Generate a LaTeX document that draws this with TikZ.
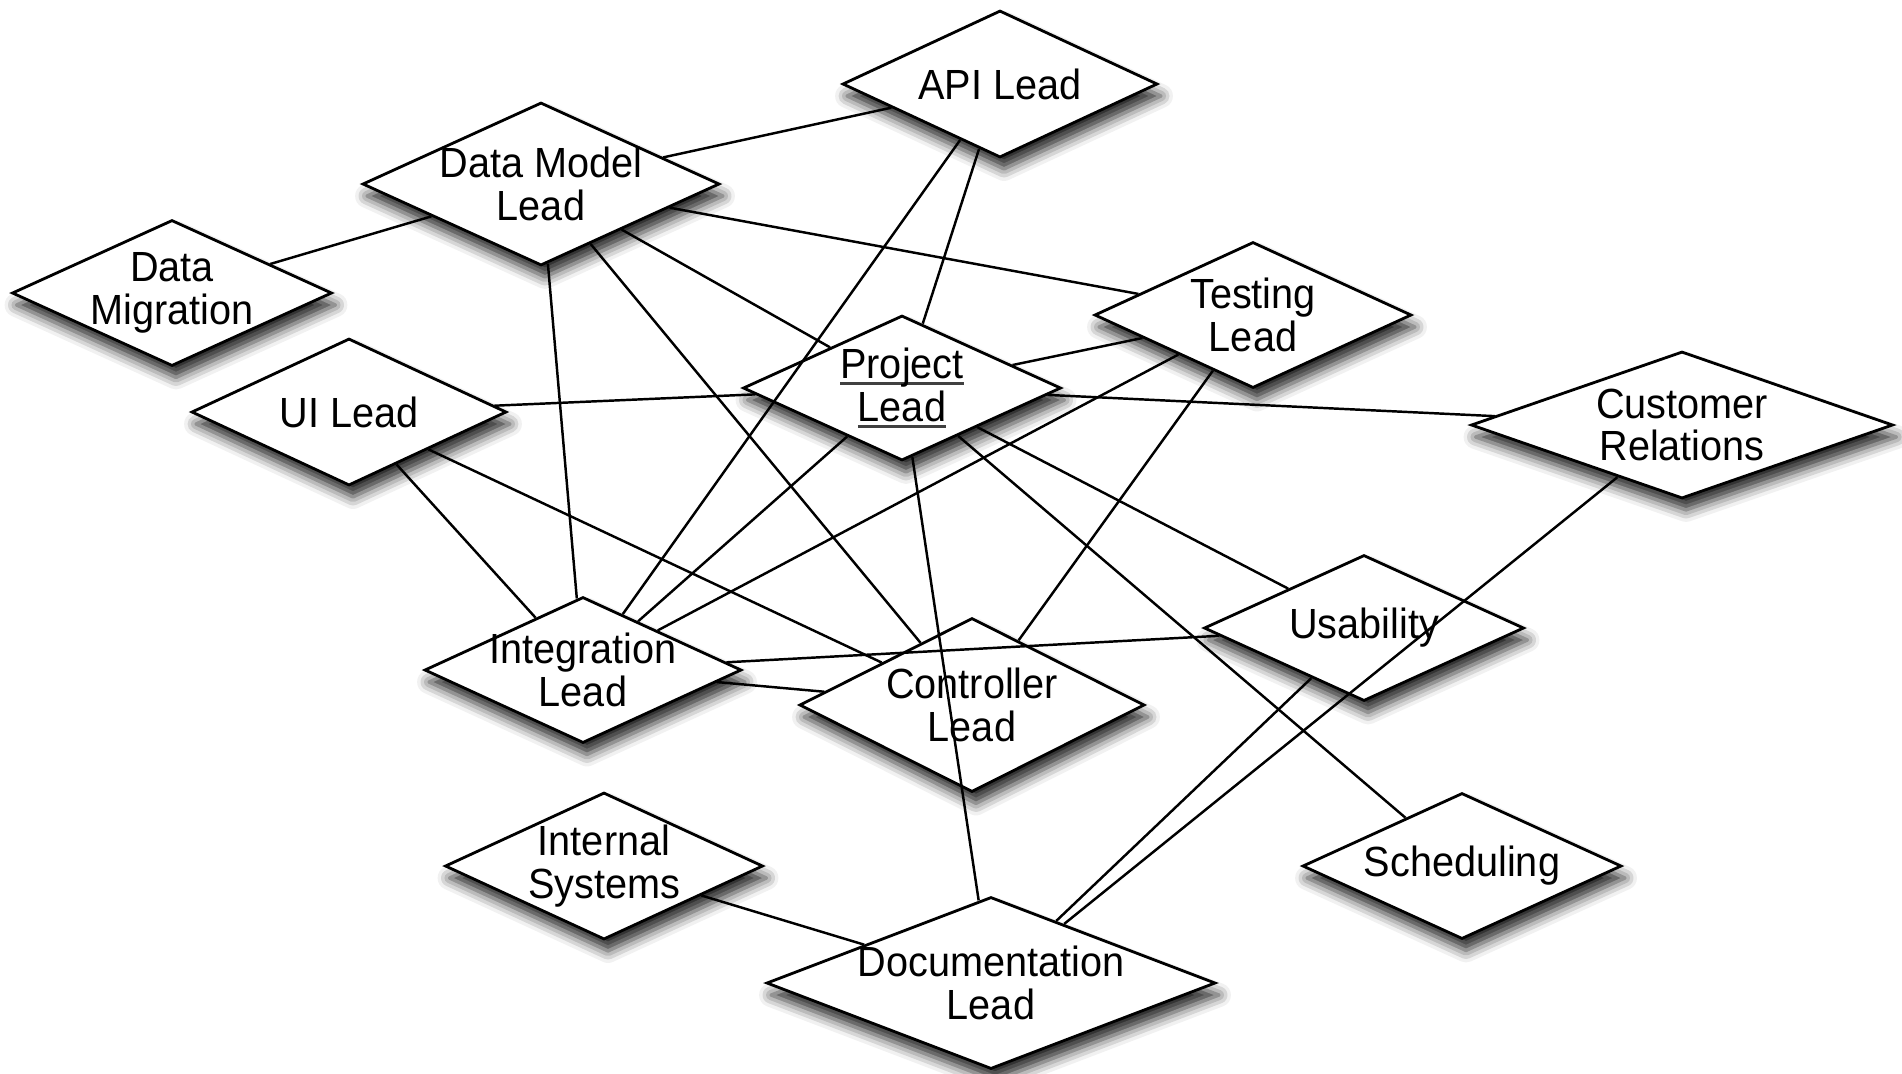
\documentclass[tikz,border=0pt]{standalone}
\usepackage{fontspec}
\newfontfamily\rolefont[FakeStretch=0.94]{Liberation Sans}
\usetikzlibrary{shapes.geometric,shadows.blur}
\newcommand{\ulname}[1]{\setbox0\hbox{#1}%
  \rlap{\textcolor{darkgray}{\rule[-2pt]{\wd0}{1pt}}}\box0}
\tikzset{
	role/.style={
		shape = diamond,
		draw,
		fill = white,
		line width = 0.8pt,
		inner sep = 0pt,
		blur shadow = {shadow xshift=0.4mm, shadow yshift=-1.2mm,
			shadow blur radius=1.2mm, shadow opacity=85}
	},
	rolename/.style={
		align = center,
		inner sep = 0pt,
		font = {\rolefont\fontsize{12}{12.2}\selectfont}
	},
	link/.style={
		line width = 0.7pt
	},
}

\begin{document}
\begin{tikzpicture}
    \useasboundingbox (0,0) rectangle (19.02,-10.73);
    % the roles
    \foreach \id/\pos/\w/\h/\txt in {
      api/{10.00,-0.84}/3.15/1.47/{API Lead},
      dm/{5.41,-1.84}/3.57/1.63/{Data Model\\Lead},
      mig/{1.72,-2.93}/3.20/1.46/{Data\\Migration},
      ui/{3.49,-4.12}/3.15/1.47/{UI Lead},
      proj/{9.02,-3.88}/3.18/1.45/{\ulname{Project}\\\ulname{Lead}},
      test/{12.53,-3.15}/3.17/1.46/{Testing\\Lead},
      cust/{16.82,-4.25}/4.22/1.47/{Customer\\Relations},
      integ/{5.83,-6.70}/3.17/1.46/{Integration\\Lead},
      ctrl/{9.72,-7.05}/3.45/1.74/{Controller\\Lead},
      usab/{13.64,-6.28}/3.20/1.46/{Usability},
      intsys/{6.04,-8.66}/3.18/1.47/{Internal\\Systems},
      sched/{14.62,-8.66}/3.19/1.46/{Scheduling},
      doc/{9.91,-9.83}/4.49/1.72/{Documentation\\Lead}}{
      \node[role, minimum width=\w cm, minimum height=\h cm] (\id) at (\pos) {};
      \node[rolename] (\id-t) at (\pos) {\txt};
    }
    % who talks to whom
    \foreach \a/\b in {dm/api, mig/dm, dm/test, dm/proj, dm/ctrl, dm/integ,
      api/proj, api/integ, ui/proj, ui/integ, ui/ctrl, proj/test, proj/cust,
      proj/integ, proj/doc, proj/usab, proj/sched, test/integ, test/ctrl,
      integ/usab, integ/ctrl, cust/doc, usab/doc, intsys/doc}{
      \draw[link] (\a)--(\b);
    }
\end{tikzpicture}
\end{document}
